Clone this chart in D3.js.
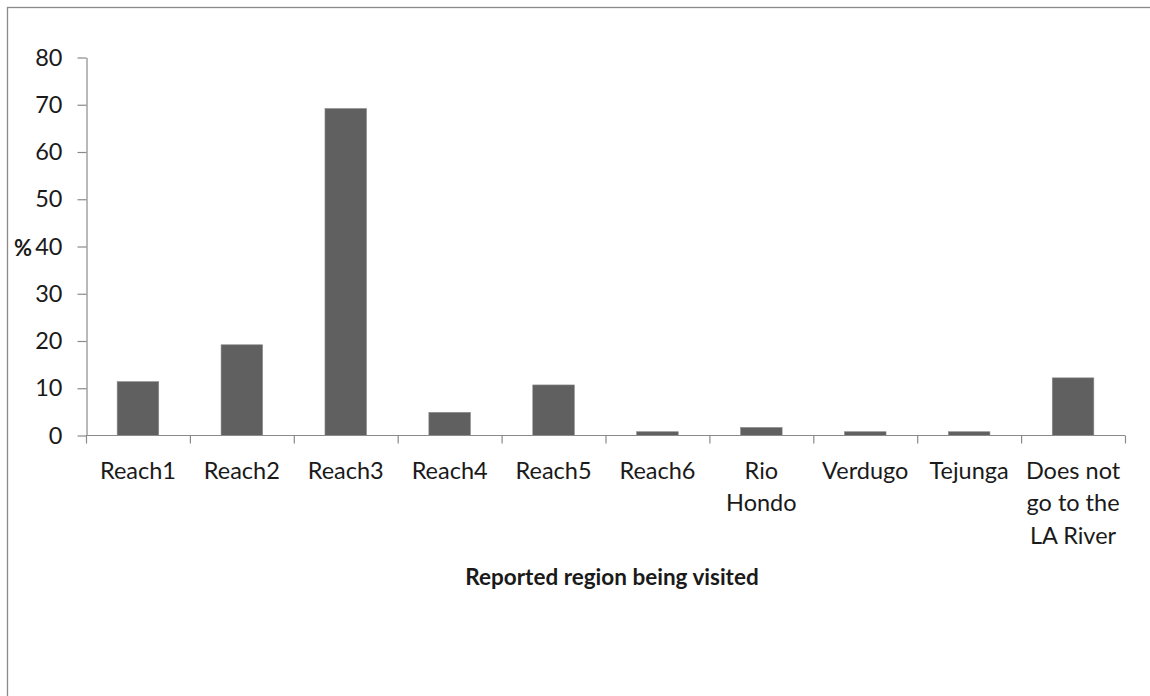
<!DOCTYPE html>
<html>
<head>
<meta charset="utf-8">
<script src="https://cdn.jsdelivr.net/npm/d3@7/dist/d3.min.js"></script>
<style>
  html, body { margin: 0; padding: 0; background: #fff; }
  svg { display: block; }
  text { font-family: "Lato", "Liberation Sans", sans-serif; fill: #1a1a1a; }
</style>
</head>
<body>
<svg id="chart" width="1150" height="696"></svg>
<script>
const categories = ["Reach1", "Reach2", "Reach3", "Reach4", "Reach5", "Reach6", "Rio Hondo", "Verdugo", "Tejunga", "Does not go to the LA River"];
const categoryLines = [["Reach1"], ["Reach2"], ["Reach3"], ["Reach4"], ["Reach5"], ["Reach6"], ["Rio", "Hondo"], ["Verdugo"], ["Tejunga"], ["Does not", "go to the", "LA River"]];
const values = [11.4, 19.2, 69.2, 4.9, 10.7, 0.8, 1.7, 0.8, 0.8, 12.2];
const yTicks = [0, 10, 20, 30, 40, 50, 60, 70, 80];
const yTitle = "%";
const xTitle = "Reported region being visited";

(function () {
const svg = d3.select("#chart");
const W = 1150, H = 696;
const FS = 23.5;

// outer frame
svg.append("rect")
  .attr("x", 7.5).attr("y", 7.5)
  .attr("width", W + 20).attr("height", H + 20)
  .attr("fill", "none").attr("stroke", "#8a8a8a").attr("stroke-width", 1.3);

const mLeft = 86, mRight = 1125, mTop = 57.5, mBottom = 435.5;

const x = d3.scaleBand().domain(categories).range([mLeft, mRight]).paddingInner(0.6).paddingOuter(0.3);
const y = d3.scaleLinear().domain([0, 80]).range([mBottom, mTop]);

// bars
svg.append("g").selectAll("rect").data(values).join("rect")
  .attr("x", (d, i) => x(categories[i]))
  .attr("y", d => y(d))
  .attr("width", x.bandwidth())
  .attr("height", d => y(0) - y(d))
  .attr("fill", "#606060")
  .attr("stroke", "#8a8a8a").attr("stroke-width", 0.6);

// y axis
const yAxis = d3.axisLeft(y).tickValues(yTicks).tickSize(9).tickPadding(15).tickSizeOuter(0);
const gy = svg.append("g").attr("transform", `translate(${mLeft + 0.5},0)`).call(yAxis);
gy.select(".domain").attr("stroke", "#8a8a8a").attr("stroke-width", 1.2);
gy.selectAll(".tick line").attr("stroke", "#8a8a8a").attr("stroke-width", 1.2);
gy.selectAll(".tick text").attr("font-size", FS).attr("font-family", "Lato, 'Liberation Sans', sans-serif").attr("fill", "#1a1a1a");

// x axis line & ticks at band boundaries
const gx = svg.append("g");
gx.append("line").attr("x1", mLeft).attr("x2", mRight).attr("y1", mBottom).attr("y2", mBottom)
  .attr("stroke", "#8a8a8a").attr("stroke-width", 1.2);
const step = x.step();
const boundaries = d3.range(categories.length + 1).map(i => x(categories[0]) - x.paddingOuter() * step + i * step);
gx.selectAll("line.tk").data(boundaries).join("line").attr("class", "tk")
  .attr("x1", d => d + 0.5).attr("x2", d => d + 0.5)
  .attr("y1", mBottom).attr("y2", mBottom + 8)
  .attr("stroke", "#8a8a8a").attr("stroke-width", 1.2);

// x labels
categories.forEach((c, i) => {
  const cx = x(c) + x.bandwidth() / 2;
  const t = svg.append("text").attr("x", cx).attr("y", 478).attr("text-anchor", "middle").attr("font-size", FS);
  categoryLines[i].forEach((ln, j) => {
    t.append("tspan").attr("x", cx).attr("y", 478.5 + j * 32.5).text(ln);
  });
});

// titles
svg.append("text").attr("x", 612).attr("y", 585).attr("text-anchor", "middle")
  .attr("font-size", 22.5).attr("font-weight", "bold").text(xTitle);
svg.append("text").attr("x", 14).attr("y", 256).attr("text-anchor", "start")
  .attr("font-size", 22).attr("font-weight", "bold").text(yTitle);
})();
</script>
</body>
</html>
